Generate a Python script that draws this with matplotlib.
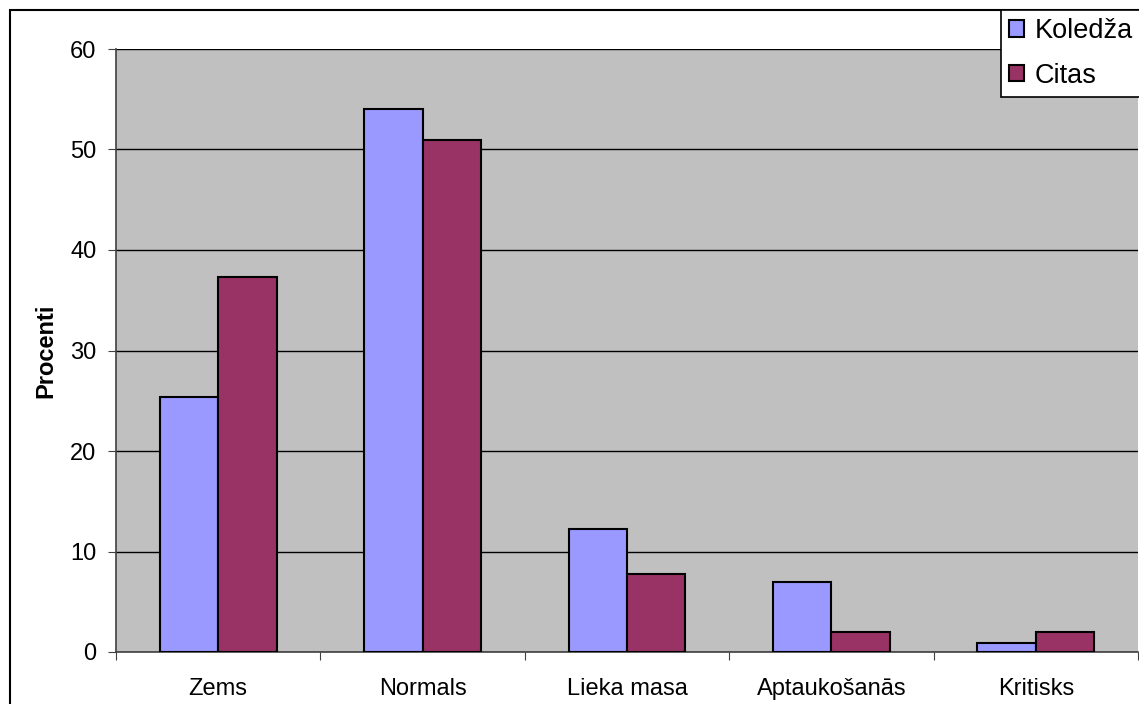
import matplotlib.pyplot as plt
from matplotlib.patches import Rectangle
import numpy as np

plt.rcParams['font.family'] = ['Liberation Sans', 'DejaVu Sans']

categories = ['Zems', 'Normals', 'Lieka masa', 'Aptaukošanās', 'Kritisks']
koledza = [25.4, 54.0, 12.2, 7.0, 0.9]
citas = [37.3, 50.9, 7.8, 2.0, 2.0]
series_names = ['Koledža', 'Citas']
colors = ['#9999FF', '#993366']

fig = plt.figure(figsize=(11.39, 7.04), dpi=100)
ax = fig.add_axes([116 / 1139, 1 - 652 / 704, (1138 - 116) / 1139, (652 - 49) / 704])
ax.set_facecolor('#C0C0C0')

x = np.arange(len(categories))
w = 1 / 3.5
ax.bar(x - w / 2, koledza, w, color=colors[0], edgecolor='black', linewidth=1.5,
       label=series_names[0], zorder=3)
ax.bar(x + w / 2, citas, w, color=colors[1], edgecolor='black', linewidth=1.5,
       label=series_names[1], zorder=3)

ax.set_xlim(-0.5, len(categories) - 0.5)
ax.set_ylim(0, 60)
ax.set_yticks(range(0, 61, 10))
ax.yaxis.grid(True, color='black', linewidth=1, zorder=1)
ax.set_axisbelow(True)

# category boundaries carry the ticks, centres carry the labels
ax.set_xticks(np.arange(-0.5, len(categories), 1))
ax.set_xticklabels([])
ax.set_xticks(x, minor=True)
ax.set_xticklabels(categories, minor=True)
ax.tick_params(axis='x', which='major', length=6, color='#404040', direction='out')
ax.tick_params(axis='x', which='minor', length=0, pad=19, labelsize=17)
ax.tick_params(axis='y', length=6, color='#404040', pad=8, labelsize=17)

for s in ['top', 'right']:
    ax.spines[s].set_visible(False)
for s in ['left', 'bottom']:
    ax.spines[s].set_color('#404040')
    ax.spines[s].set_linewidth(1.2)

ax.set_ylabel('Procenti', fontsize=17, fontweight='bold', labelpad=9)

# outer chart border
fig.patches.append(Rectangle((10 / 1139, -0.1), 1.2, 1 - 10 / 704 + 0.1,
                             transform=fig.transFigure, fill=False,
                             edgecolor='black', linewidth=1.5, zorder=0))

leg = fig.legend(loc='upper left', bbox_to_anchor=(1001 / 1139, 1 - 10 / 704),
                 fontsize=19.5, frameon=True, fancybox=False, edgecolor='black',
                 framealpha=1, handlelength=0.55, handleheight=0.55,
                 handletextpad=0.4, borderpad=0.3, labelspacing=0.68,
                 borderaxespad=0)
leg.get_frame().set_linewidth(1.2)

fig.savefig('out.png', dpi=100)
